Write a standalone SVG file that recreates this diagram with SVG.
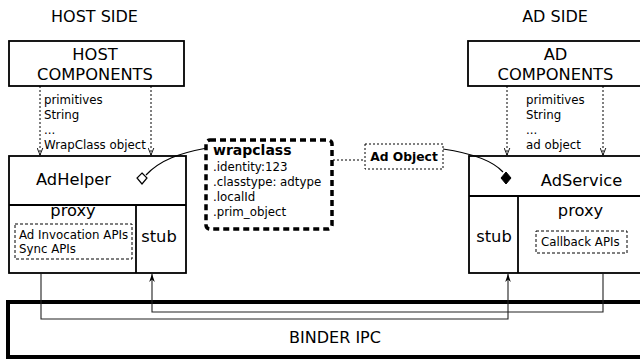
<svg xmlns="http://www.w3.org/2000/svg" width="640" height="360" viewBox="0 0 640 360">
<defs>
<marker id="fa" viewBox="0 0 10 10" refX="10" refY="5" markerWidth="8" markerHeight="8" markerUnits="userSpaceOnUse" orient="auto">
<path d="M0,1.5 L10,5 L0,8.5 L3,5 Z" fill="#000"/>
</marker>
<marker id="oa" viewBox="0 0 10 10" refX="10" refY="5" markerWidth="7" markerHeight="7" markerUnits="userSpaceOnUse" orient="auto">
<path d="M0,1 L10,5 L0,9" fill="none" stroke="#000" stroke-width="1.3"/>
</marker>
</defs>
<style>
text{font-family:"DejaVu Sans","Liberation Sans",sans-serif;fill:#000}
.h{font-size:16px}
.m{font-size:16.3px}
.s{font-size:11.8px}
.b{font-weight:bold}
.box{fill:#fff;stroke:#000;stroke-width:1.8}
.ln{fill:none;stroke:#000;stroke-width:1.8}
.dot{fill:none;stroke:#000;stroke-width:1;stroke-dasharray:2,2}
.dash{fill:none;stroke:#000;stroke-width:1;stroke-dasharray:3,2}
.con{fill:none;stroke:#222;stroke-width:1.1}
</style>
<rect width="640" height="360" fill="#fff"/>

<text class="h" x="94.5" y="22" text-anchor="middle">HOST SIDE</text>
<text class="h" x="555" y="22" text-anchor="middle">AD SIDE</text>

<g id="host-components">
<rect class="box" x="9" y="41" width="175" height="45"/>
<text class="m" x="95" y="60" text-anchor="middle">HOST</text>
<text class="m" x="95" y="80" text-anchor="middle">COMPONENTS</text>
</g>

<g id="ad-components">
<rect class="box" x="468" y="41" width="180" height="45"/>
<text class="m" x="555.5" y="60" text-anchor="middle">AD</text>
<text class="m" x="555.5" y="80" text-anchor="middle">COMPONENTS</text>
</g>

<g id="host-data">
<text class="s" x="44" y="104">primitives</text>
<text class="s" x="44" y="119">String</text>
<text class="s" x="44" y="134">...</text>
<text class="s" x="44" y="149">WrapClass object</text>
</g>

<g id="ad-data">
<text class="s" x="526" y="104">primitives</text>
<text class="s" x="526" y="119">String</text>
<text class="s" x="526" y="134">...</text>
<text class="s" x="526" y="149">ad object</text>
</g>

<g id="adhelper">
<rect class="box" x="9" y="156" width="177" height="117"/>
<line class="ln" x1="9" y1="205" x2="186" y2="205"/>
<line class="ln" x1="136" y1="205" x2="136" y2="273"/>
<text class="m" x="73.5" y="185" text-anchor="middle">AdHelper</text>
<text class="m" x="73" y="216" text-anchor="middle">proxy</text>
<rect class="dash" x="15" y="224" width="117" height="35"/>
<text class="s" x="19" y="239">Ad Invocation APIs</text>
<text class="s" x="19" y="253">Sync APIs</text>
<text class="m" x="159" y="242" text-anchor="middle">stub</text>
</g>

<g id="adservice">
<rect class="box" x="469" y="156" width="180" height="117"/>
<line class="ln" x1="469" y1="196" x2="649" y2="196"/>
<line class="ln" x1="518" y1="196" x2="518" y2="273"/>
<text class="m" x="581.5" y="186" text-anchor="middle">AdService</text>
<text class="m" x="580.5" y="216" text-anchor="middle">proxy</text>
<rect class="dash" x="536" y="231" width="91" height="22"/>
<text class="s" x="541" y="246">Callback APIs</text>
<text class="m" x="494" y="242" text-anchor="middle">stub</text>
</g>

<g id="wrapclass">
<rect x="206" y="140" width="126" height="89" rx="4" fill="#fff" stroke="#000" stroke-width="3.5" stroke-dasharray="6,4"/>
<text class="b" x="213" y="155" font-size="14px">wrapclass</text>
<text class="s" x="213" y="171">.identity:123</text>
<text class="s" x="213" y="186">.classtype: adtype</text>
<text class="s" x="213" y="201">.localId</text>
<text class="s" x="213" y="216">.prim_object</text>
</g>

<g id="ad-object">
<rect class="dot" x="365" y="144" width="78" height="25" fill="#fff"/>
<text class="b" x="404" y="161" font-size="12.3px" text-anchor="middle">Ad Object</text>
</g>

<g id="binder-ipc">
<rect x="8" y="302" width="645" height="55" fill="none" stroke="#000" stroke-width="4"/>
<text class="h" x="335" y="343" text-anchor="middle">BINDER IPC</text>
</g>

<g id="connectors">
<line class="dot" x1="40" y1="86" x2="40" y2="155" marker-end="url(#oa)"/>
<line class="dot" x1="151" y1="86" x2="151" y2="155" marker-end="url(#oa)"/>
<line class="dot" x1="507" y1="86" x2="507" y2="155" marker-end="url(#oa)"/>
<line class="dot" x1="603" y1="86" x2="603" y2="155" marker-end="url(#oa)"/>
<line class="dot" x1="333" y1="160" x2="365" y2="160"/>
<path d="M207,148 C180,153 160,160 146,175" fill="none" stroke="#000" stroke-width="1.2"/>
<path d="M142,173 L147,178 L142,184 L137,178 Z" fill="#fff" stroke="#000" stroke-width="1.2"/>
<path d="M443,149 C470,153 492,160 503,172" fill="none" stroke="#000" stroke-width="1.2"/>
<path d="M506,172 L511,178 L506,184 L501,178 Z" fill="#000" stroke="#000" stroke-width="1"/>
<path class="con" d="M41,274 V319 H508 V274" marker-end="url(#fa)"/>
<path class="con" d="M603,274 V312 H152 V274" marker-end="url(#fa)"/>
</g>
</svg>
